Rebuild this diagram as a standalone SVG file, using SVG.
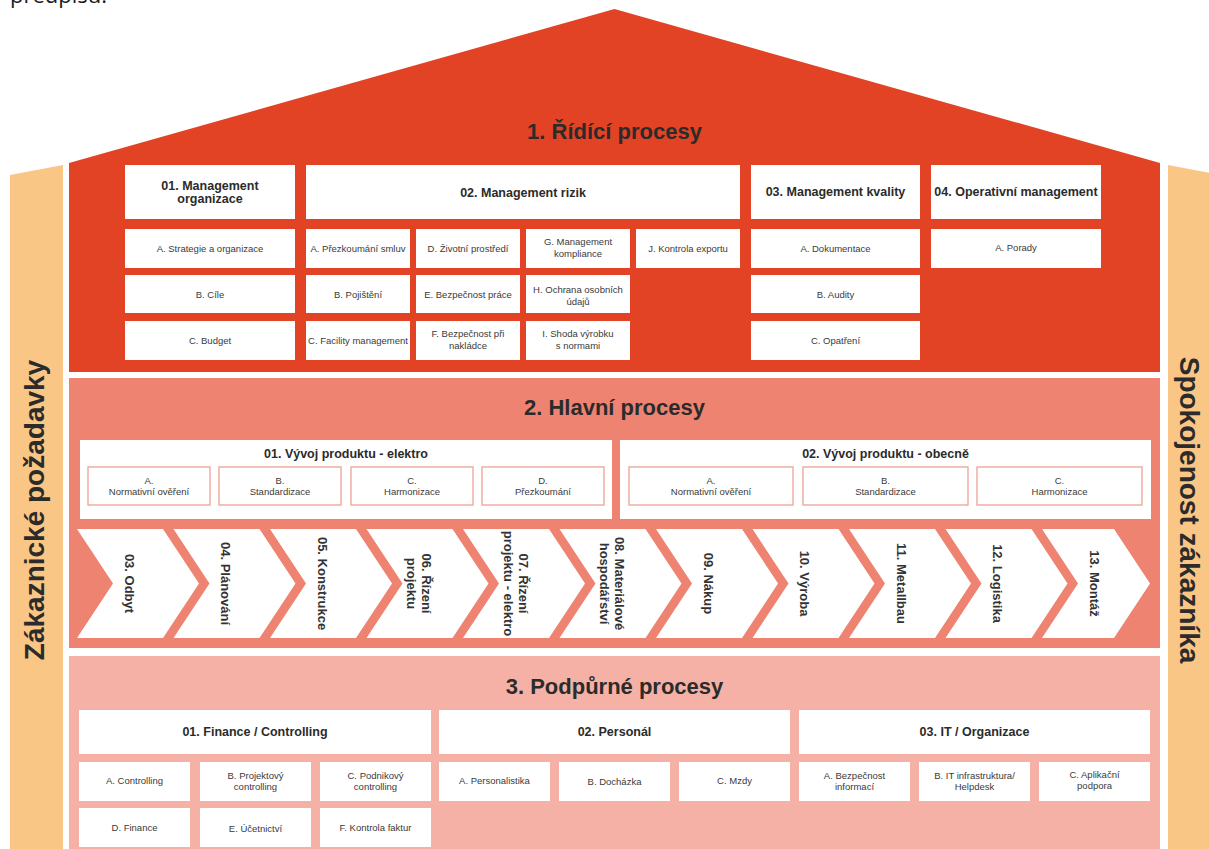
<svg xmlns="http://www.w3.org/2000/svg" width="1209" height="849" viewBox="0 0 1209 849">
  <style>
    .red { fill: #E24324; }
    .salmon { fill: #EF8372; }
    .pink { fill: #F5B1A6; }
    .side { fill: #FAC685; }
    .box { fill: #FFFFFF; }
    .sub { fill: #FFFFFF; stroke: #EEA194; stroke-width: 1.3; }
    .chev { fill: #FFFFFF; }
    text { font-family: "Liberation Sans", Arial, Helvetica, sans-serif; fill: #2B2B2B; }
    .title { font-size: 22px; font-weight: bold; text-anchor: middle; }
    .head { font-size: 12.5px; font-weight: bold; text-anchor: middle; }
    .item { font-size: 9.5px; text-anchor: middle; fill: #3A3A3A; }
    .ctext { font-size: 13px; font-weight: bold; text-anchor: middle; fill: #333333; }
    .sidetext { font-size: 28px; font-weight: bold; text-anchor: middle; }
  </style>

  <!-- cut-off line of running text above the house -->
  <text x="10" y="3" style="font-family: 'Open Sans', 'Liberation Sans', sans-serif; font-size: 22px; fill: #1A1A1A;">předpisů.</text>

  <!-- side pillars -->
  <g id="pillar-left">
    <polygon class="side" points="10,175 63,165 63,849 10,849"/>
    <text class="sidetext" transform="translate(44,510) rotate(-90)">Zákaznické požadavky</text>
  </g>
  <g id="pillar-right">
    <polygon class="side" points="1168,165 1221,175 1221,849 1168,849"/>
    <text class="sidetext" transform="translate(1180,510) rotate(90)">Spokojenost zákazníka</text>
  </g>

  <!-- 1. management processes (roof) -->
  <g id="section-1">
    <polygon class="red" points="69,163 614.5,9 1160,163 1160,372 69,372"/>
    <text class="title" x="614.5" y="139">1. Řídící procesy</text>
  </g>

  <g id="mgmt-organizace">
    <rect class="box" x="125" y="165" width="170" height="54"/>
    <text class="head" x="210" y="190">01. Management</text>
    <text class="head" x="210" y="203">organizace</text>
    <rect class="box" x="125" y="229" width="170" height="39"/>
    <text class="item" x="210" y="252">A. Strategie a organizace</text>
    <rect class="box" x="125" y="275" width="170" height="38"/>
    <text class="item" x="210" y="298">B. Cíle</text>
    <rect class="box" x="125" y="321" width="170" height="39"/>
    <text class="item" x="210" y="344">C. Budget</text>
  </g>

  <g id="mgmt-rizik">
    <rect class="box" x="306" y="165" width="434" height="54"/>
    <text class="head" x="523" y="197">02. Management rizik</text>
    <rect class="box" x="306" y="229" width="104" height="39"/>
    <text class="item" x="358" y="252">A. Přezkoumání smluv</text>
    <rect class="box" x="416" y="229" width="104" height="39"/>
    <text class="item" x="468" y="252">D. Životní prostředí</text>
    <rect class="box" x="526" y="229" width="104" height="39"/>
    <text class="item" x="578" y="245">G. Management</text>
    <text class="item" x="578" y="257">kompliance</text>
    <rect class="box" x="636" y="229" width="104" height="39"/>
    <text class="item" x="688" y="252">J. Kontrola exportu</text>
    <rect class="box" x="306" y="275" width="104" height="38"/>
    <text class="item" x="358" y="298">B. Pojištění</text>
    <rect class="box" x="416" y="275" width="104" height="38"/>
    <text class="item" x="468" y="298">E. Bezpečnost práce</text>
    <rect class="box" x="526" y="275" width="104" height="38"/>
    <text class="item" x="578" y="293">H. Ochrana osobních</text>
    <text class="item" x="578" y="305">údajů</text>
    <rect class="box" x="306" y="321" width="104" height="39"/>
    <text class="item" x="358" y="344">C. Facility management</text>
    <rect class="box" x="416" y="321" width="104" height="39"/>
    <text class="item" x="468" y="337">F. Bezpečnost při</text>
    <text class="item" x="468" y="349">nakládce</text>
    <rect class="box" x="526" y="321" width="104" height="39"/>
    <text class="item" x="578" y="337">I. Shoda výrobku</text>
    <text class="item" x="578" y="349">s normami</text>
  </g>

  <g id="mgmt-kvality">
    <rect class="box" x="751" y="165" width="169" height="54"/>
    <text class="head" x="835.5" y="196">03. Management kvality</text>
    <rect class="box" x="751" y="229" width="169" height="39"/>
    <text class="item" x="835.5" y="252">A. Dokumentace</text>
    <rect class="box" x="751" y="275" width="169" height="38"/>
    <text class="item" x="835.5" y="298">B. Audity</text>
    <rect class="box" x="751" y="321" width="169" height="39"/>
    <text class="item" x="835.5" y="344">C. Opatření</text>
  </g>

  <g id="mgmt-operativni">
    <rect class="box" x="931" y="165" width="170" height="54"/>
    <text class="head" x="1016" y="196">04. Operativní management</text>
    <rect class="box" x="931" y="229" width="170" height="39"/>
    <text class="item" x="1016" y="251">A. Porady</text>
  </g>

  <!-- 2. core processes -->
  <g id="section-2">
    <rect class="salmon" x="69" y="378" width="1091" height="270"/>
    <text class="title" x="614.5" y="415">2. Hlavní procesy</text>
  </g>

  <g id="vyvoj-elektro">
    <rect class="box" x="80" y="440" width="532" height="79"/>
    <text class="head" x="346" y="457.5">01. Vývoj produktu - elektro</text>
    <rect class="sub" x="88" y="467" width="122" height="38"/>
    <text class="item" x="149" y="483.5">A.</text>
    <text class="item" x="149" y="495">Normativní ověření</text>
    <rect class="sub" x="219" y="467" width="122" height="38"/>
    <text class="item" x="280" y="483.5">B.</text>
    <text class="item" x="280" y="495">Standardizace</text>
    <rect class="sub" x="351" y="467" width="122" height="38"/>
    <text class="item" x="412" y="483.5">C.</text>
    <text class="item" x="412" y="495">Harmonizace</text>
    <rect class="sub" x="482" y="467" width="122" height="38"/>
    <text class="item" x="543" y="483.5">D.</text>
    <text class="item" x="543" y="495">Přezkoumání</text>
  </g>

  <g id="vyvoj-obecne">
    <rect class="box" x="620" y="440" width="531" height="79"/>
    <text class="head" x="885.5" y="457.5">02. Vývoj produktu - obecně</text>
    <rect class="sub" x="629" y="467" width="164" height="38"/>
    <text class="item" x="711" y="483.5">A.</text>
    <text class="item" x="711" y="495">Normativní ověření</text>
    <rect class="sub" x="803" y="467" width="165" height="38"/>
    <text class="item" x="885.5" y="483.5">B.</text>
    <text class="item" x="885.5" y="495">Standardizace</text>
    <rect class="sub" x="977" y="467" width="165" height="38"/>
    <text class="item" x="1059.5" y="483.5">C.</text>
    <text class="item" x="1059.5" y="495">Harmonizace</text>
  </g>

  <!-- process chain: chevrons, top 529, bottom 638, point depth 36 -->
  <g id="chain">
    <g id="step-03">
      <path class="chev" d="M77,529 L163,529 L199,583.5 L163,638 L77,638 L113,583.5 Z"/>
      <text class="ctext" transform="translate(124.5,583.5) rotate(90)">03. Odbyt</text>
    </g>
    <g id="step-04">
      <path class="chev" d="M173.5,529 L259.5,529 L295.5,583.5 L259.5,638 L173.5,638 L209.5,583.5 Z"/>
      <text class="ctext" transform="translate(221,583.5) rotate(90)">04. Plánování</text>
    </g>
    <g id="step-05">
      <path class="chev" d="M270,529 L356,529 L392,583.5 L356,638 L270,638 L306,583.5 Z"/>
      <text class="ctext" transform="translate(317.5,583.5) rotate(90)">05. Konstrukce</text>
    </g>
    <g id="step-06">
      <path class="chev" d="M366.5,529 L452.5,529 L488.5,583.5 L452.5,638 L366.5,638 L402.5,583.5 Z"/>
      <text class="ctext" transform="translate(422,583.5) rotate(90)"><tspan x="0">06. Řízení</tspan><tspan x="0" dy="15">projektu</tspan></text>
    </g>
    <g id="step-07">
      <path class="chev" d="M463,529 L549,529 L585,583.5 L549,638 L463,638 L499,583.5 Z"/>
      <text class="ctext" transform="translate(518.5,583.5) rotate(90)"><tspan x="0">07. Řízení</tspan><tspan x="0" dy="15">projektu - elektro</tspan></text>
    </g>
    <g id="step-08">
      <path class="chev" d="M559.5,529 L645.5,529 L681.5,583.5 L645.5,638 L559.5,638 L595.5,583.5 Z"/>
      <text class="ctext" transform="translate(615,583.5) rotate(90)"><tspan x="0">08. Materiálové</tspan><tspan x="0" dy="15">hospodářství</tspan></text>
    </g>
    <g id="step-09">
      <path class="chev" d="M656,529 L742,529 L778,583.5 L742,638 L656,638 L692,583.5 Z"/>
      <text class="ctext" transform="translate(703.5,583.5) rotate(90)">09. Nákup</text>
    </g>
    <g id="step-10">
      <path class="chev" d="M752.5,529 L838.5,529 L874.5,583.5 L838.5,638 L752.5,638 L788.5,583.5 Z"/>
      <text class="ctext" transform="translate(800,583.5) rotate(90)">10. Výroba</text>
    </g>
    <g id="step-11">
      <path class="chev" d="M849,529 L935,529 L971,583.5 L935,638 L849,638 L885,583.5 Z"/>
      <text class="ctext" transform="translate(896.5,583.5) rotate(90)">11. Metallbau</text>
    </g>
    <g id="step-12">
      <path class="chev" d="M945.5,529 L1031.5,529 L1067.5,583.5 L1031.5,638 L945.5,638 L981.5,583.5 Z"/>
      <text class="ctext" transform="translate(993,583.5) rotate(90)">12. Logistika</text>
    </g>
    <g id="step-13">
      <path class="chev" d="M1042,529 L1114,529 L1150,583.5 L1114,638 L1042,638 L1078,583.5 Z"/>
      <text class="ctext" transform="translate(1089.5,583.5) rotate(90)">13. Montáž</text>
    </g>
  </g>

  <!-- 3. support processes -->
  <g id="section-3">
    <rect class="pink" x="69" y="656" width="1091" height="193"/>
    <text class="title" x="614.5" y="694">3. Podpůrné procesy</text>
  </g>

  <g id="finance">
    <rect class="box" x="79" y="710" width="352" height="44"/>
    <text class="head" x="255" y="736">01. Finance / Controlling</text>
    <rect class="box" x="79" y="762" width="111" height="39"/>
    <text class="item" x="134.5" y="784">A. Controlling</text>
    <rect class="box" x="200" y="762" width="111" height="39"/>
    <text class="item" x="255.5" y="779">B. Projektový</text>
    <text class="item" x="255.5" y="790">controlling</text>
    <rect class="box" x="320" y="762" width="111" height="39"/>
    <text class="item" x="375.5" y="779">C. Podnikový</text>
    <text class="item" x="375.5" y="790">controlling</text>
    <rect class="box" x="79" y="808" width="111" height="39"/>
    <text class="item" x="134.5" y="831">D. Finance</text>
    <rect class="box" x="200" y="808" width="111" height="39"/>
    <text class="item" x="255.5" y="832">E. Účetnictví</text>
    <rect class="box" x="320" y="808" width="111" height="39"/>
    <text class="item" x="375.5" y="831">F. Kontrola faktur</text>
  </g>

  <g id="personal">
    <rect class="box" x="439" y="710" width="351" height="44"/>
    <text class="head" x="614.5" y="736">02. Personál</text>
    <rect class="box" x="439" y="762" width="111" height="39"/>
    <text class="item" x="494.5" y="784">A. Personalistika</text>
    <rect class="box" x="559" y="762" width="111" height="39"/>
    <text class="item" x="614.5" y="785">B. Docházka</text>
    <rect class="box" x="679" y="762" width="111" height="39"/>
    <text class="item" x="734.5" y="784">C. Mzdy</text>
  </g>

  <g id="it-organizace">
    <rect class="box" x="799" y="710" width="351" height="44"/>
    <text class="head" x="974.5" y="736">03. IT / Organizace</text>
    <rect class="box" x="799" y="762" width="111" height="39"/>
    <text class="item" x="854.5" y="779">A. Bezpečnost</text>
    <text class="item" x="854.5" y="790">informací</text>
    <rect class="box" x="919" y="762" width="111" height="39"/>
    <text class="item" x="974.5" y="779">B. IT infrastruktura/</text>
    <text class="item" x="974.5" y="790">Helpdesk</text>
    <rect class="box" x="1039" y="762" width="111" height="39"/>
    <text class="item" x="1094.5" y="778">C. Aplikační</text>
    <text class="item" x="1094.5" y="789">podpora</text>
  </g>
</svg>
